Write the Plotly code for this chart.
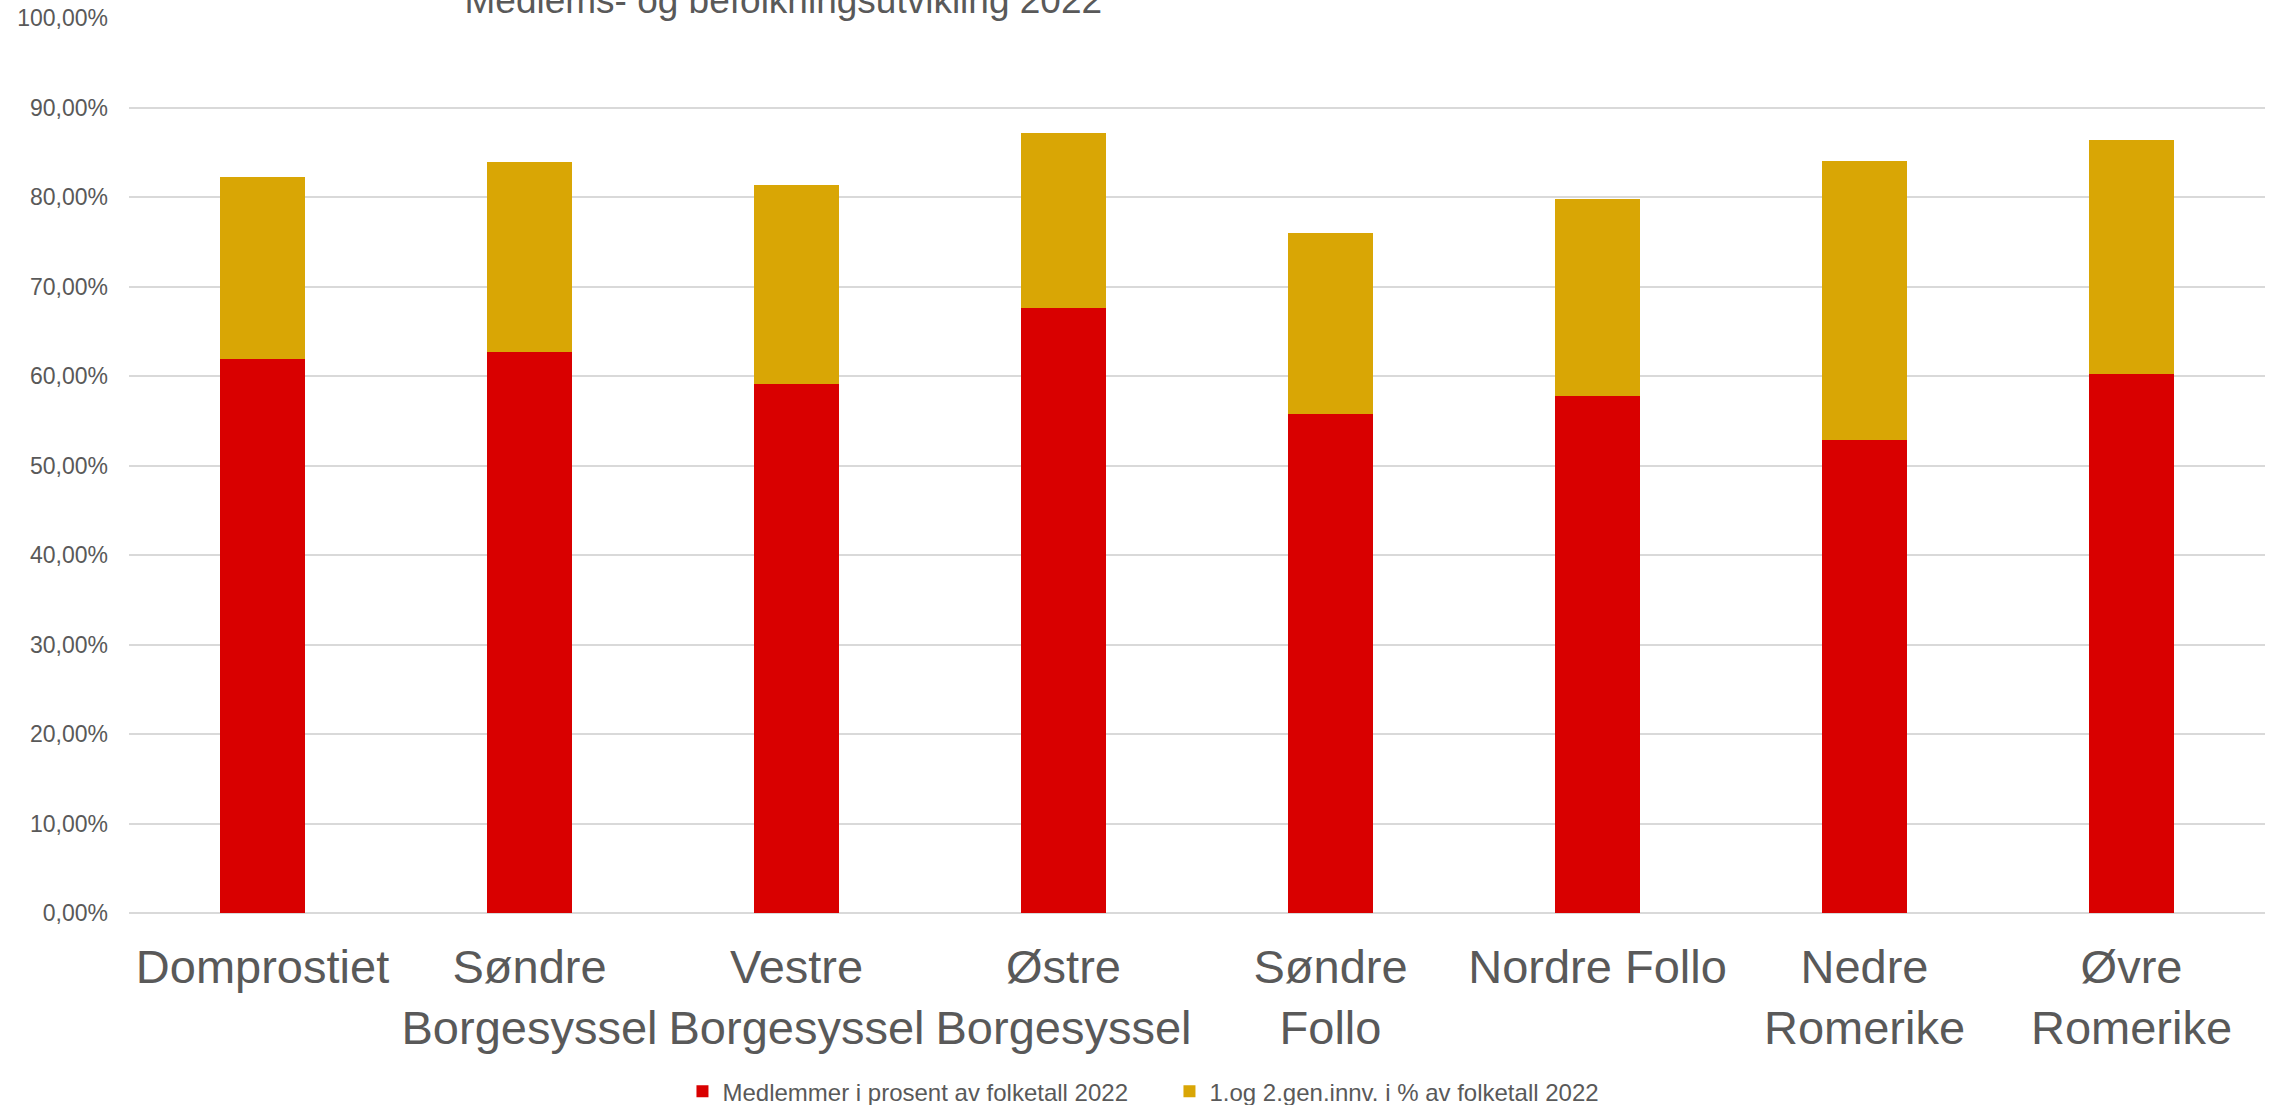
import plotly.graph_objects as go

categories = ["Domprostiet", "Søndre Borgesyssel", "Vestre Borgesyssel", "Østre Borgesyssel",
              "Søndre Follo", "Nordre Follo", "Nedre Romerike", "Øvre Romerike"]
tick_labels = ["Domprostiet", "Søndre<br>Borgesyssel", "Vestre<br>Borgesyssel", "Østre<br>Borgesyssel",
               "Søndre<br>Follo", "Nordre Follo", "Nedre<br>Romerike", "Øvre<br>Romerike"]
members_pct = [0.619, 0.627, 0.591, 0.676, 0.557, 0.578, 0.528, 0.602]
immigrants_pct = [0.203, 0.212, 0.222, 0.195, 0.203, 0.220, 0.312, 0.262]
series_names = ["Medlemmer i prosent av folketall 2022", "1.og 2.gen.innv. i % av folketall 2022"]
title_text = "Medlems- og befolkningsutvikling 2022"

RED = "#D90000"
GOLD = "#D9A605"
GREY = "#595959"
FONT = "Liberation Sans, Arial, sans-serif"

fig = go.Figure()
fig.add_trace(go.Bar(x=categories, y=members_pct, name=series_names[0], marker_color=RED,
                     marker_line_width=0))
fig.add_trace(go.Bar(x=categories, y=immigrants_pct, name=series_names[1], marker_color=GOLD,
                     marker_line_width=0))

fig.update_layout(
    width=2277, height=1105,
    barmode="stack", bargap=0.685,
    separators=", ",
    plot_bgcolor="white", paper_bgcolor="white",
    margin=dict(l=129, r=12, t=18, b=192, autoexpand=False),
    font=dict(family=FONT, color=GREY),
    title=dict(text=title_text, font=dict(size=37, color=GREY, family=FONT),
               xref="container", x=0.344, xanchor="center",
               yref="container", y=1.0, yanchor="middle"),
    showlegend=True,
    legend=dict(orientation="h", xref="container", x=0.5136, xanchor="center",
                yref="container", y=0.012, yanchor="middle",
                font=dict(size=24, color=GREY, family=FONT),
                entrywidth=442, entrywidthmode="pixels", traceorder="normal"),
    xaxis=dict(type="category", tickvals=categories, ticktext=tick_labels,
               tickfont=dict(size=47, color=GREY, family=FONT), ticks="",
               ticklabelstandoff=22,
               showgrid=False, showline=False, zeroline=False, automargin=False),
    yaxis=dict(range=[0, 1], dtick=0.1, tick0=0, tickformat=".2%",
               tickfont=dict(size=23, color=GREY, family=FONT), ticks="",
               ticklabelstandoff=20,
               showgrid=True, gridcolor="#D9D9D9", gridwidth=2,
               zeroline=True, zerolinecolor="#D9D9D9", zerolinewidth=2,
               showline=False, automargin=False),
)

fig.write_html("out.html", config={"displayModeBar": False},
               post_script="document.body.style.margin='0';document.body.style.overflow='hidden';")
